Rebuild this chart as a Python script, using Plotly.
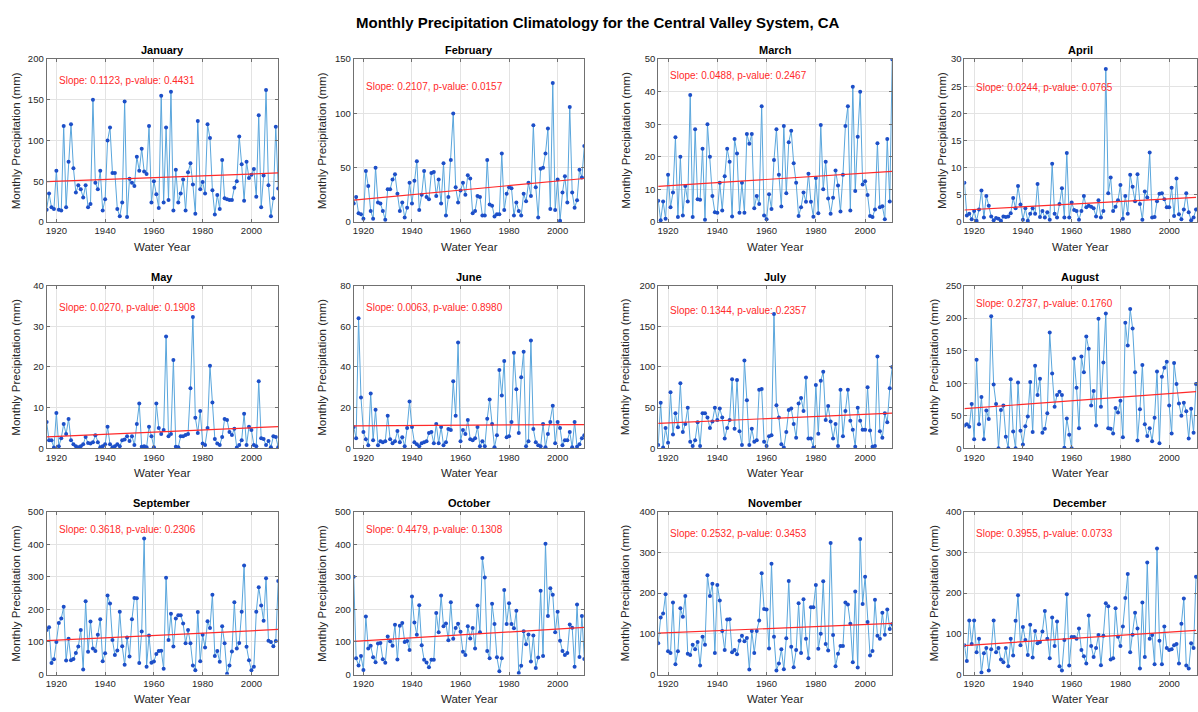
import plotly.graph_objects as go

years = list(range(1916, 2012))
months = ["January", "February", "March", "April", "May", "June",
          "July", "August", "September", "October", "November", "December"]

jan = [15, 35, 18, 16, 63, 15, 14, 118, 18, 74,
       120, 66, 36, 45, 40, 30, 45, 18, 22, 150,
       48, 40, 63, 14, 28, 100, 116, 60, 60, 16,
       7, 24, 148, 6, 53, 48, 44, 80, 63, 90,
       62, 59, 118, 24, 50, 34, 17, 155, 24, 116,
       27, 160, 14, 64, 24, 35, 52, 14, 61, 72,
       46, 10, 124, 40, 49, 35, 120, 103, 39, 9,
       33, 16, 76, 29, 28, 27, 27, 42, 50, 105,
       71, 26, 74, 54, 58, 65, 31, 131, 18, 57,
       162, 45, 7, 29, 117, 41]
feb = [17, 23, 8, 7, 3, 47, 33, 10, 3, 50,
       18, 17, 10, 2, 30, 30, 39, 44, 26, 10,
       18, 4, 13, 36, 17, 38, 56, 11, 25, 47,
       23, 21, 45, 46, 24, 39, 17, 54, 6, 23,
       57, 100, 32, 18, 29, 36, 25, 43, 40, 8,
       10, 24, 23, 6, 6, 57, 16, 15, 5, 7,
       7, 63, 11, 26, 32, 31, 6, 18, 10, 6,
       26, 19, 36, 24, 89, 32, 4, 49, 50, 63,
       86, 12, 128, 11, 39, 1, 27, 42, 18, 106,
       27, 13, 20, 48, 41, 70]
mar = [6.5, 0.5, 6.3, 1, 14.5, 4.5, 9, 26, 1.5, 20,
       2, 11, 6.3, 39, 1.5, 28.5, 7, 6.8, 22.5, 0.7,
       30, 20, 8, 3, 2.8, 12, 3.5, 14, 22.5, 18.5,
       1.7, 25.5, 21, 2.8, 12, 2.8, 27, 24, 27, 4.2,
       8, 5.5, 35.5, 2, 0.8, 8.5, 4, 19, 28.5, 14.5,
       4.7, 29.5, 8.8, 24.5, 28, 18, 12, 1.8, 4.5, 9,
       6.2, 14.8, 6.2, 1.6, 13.5, 2.7, 29.8, 10, 18.5, 7.2,
       2.5, 7.4, 15.8, 11.2, 3.2, 14.5, 29.5, 35.5, 3.5, 41.5,
       9.5, 26.2, 40, 11.5, 12.5, 8.3, 1.8, 1.5, 3.8, 24.2,
       4.5, 4.8, 0.8, 25.5, 6.3, 50]
apr = [7.2, 1.2, 1.5, 0.5, 2.0, 0.2, 2.3, 5.8, 0.8, 4.8,
       3.0, 1.0, 0.3, 0.7, 0.6, 0.2, 1.0, 0.9, 1.0, 1.6,
       4.4, 2.5, 6.6, 3.2, 0.4, 2.5, 0.2, 1.5, 2.5, 1.5,
       7.0, 0.9, 2.0, 0.8, 1.8, 0.4, 10.7, 1.5, 0.8, 3.3,
       6.2, 0.8, 12.7, 0.8, 3.6, 2.2, 2.0, 0.4, 2.0, 4.8,
       2.7, 3.0, 2.8, 2.5, 1.0, 4.0, 0.8, 2.0, 28.2, 5.3,
       8.2, 2.0, 2.8, 4.0, 6.8, 0.6, 4.8, 1.5, 8.7, 6.5,
       3.8, 8.8, 3.3, 0.4, 5.6, 4.5, 12.8, 0.8, 0.9, 3.8,
       5.2, 5.3, 4.2, 2.7, 2.7, 6.3, 1.1, 8.0, 1.4, 0.5,
       2.3, 5.3, 1.8, 0.3, 0.8, 2.3]
may = [6.5, 2, 2, 0.2, 8.7, 0.5, 2.5, 6, 3.5, 7.2,
       2, 1, 0.5, 0.3, 0.5, 1, 2.8, 1.3, 1.2, 1.5,
       3.2, 1.5, 0.3, 0.5, 1, 5.3, 1, 0.3, 0.5, 1,
       0.5, 2, 2.2, 3, 1.8, 3, 0.8, 6, 11, 0.4,
       0.5, 0.3, 5.3, 3, 0.3, 11, 5, 3.5, 4.5, 27.5,
       3, 3.5, 21.7, 0.4, 0.3, 3, 3, 3.3, 3.5, 14.8,
       32.3, 7.5, 3.8, 9.2, 1.2, 0.8, 5, 20.3, 11.3, 2.3,
       1.2, 0.8, 2.8, 7.2, 7, 4, 3.3, 4.8, 0.2, 0.8,
       2, 8.5, 0.8, 5.3, 4.5, 0.8, 0.5, 16.5, 2.5, 2.3,
       0.8, 1.8, 0.3, 3, 2.8, 0.3]
jun = [10.5, 5, 64, 25, 8, 4.5, 1.5, 27, 4, 19,
       1.5, 3.5, 3, 3.5, 16, 4.5, 2.5, 3.5, 8.5, 3,
       5.5, 1, 10, 23, 10.5, 3, 2, 1, 2.5, 3,
       3.5, 7.5, 8, 2.5, 12, 2.5, 10.5, 1.5, 3, 9.5,
       9, 33, 16, 52, 3.5, 9, 7, 14, 4.5, 4,
       5, 10.5, 1, 3.5, 1, 14.5, 24, 12, 0.5, 6.5,
       38.5, 26, 43, 5.5, 6, 13, 47, 29, 7.5, 35,
       47.5, 1, 3.5, 53, 9.5, 3, 1.5, 1, 12, 0.5,
       7, 13, 21, 2.5, 13, 10, 1.5, 4, 4, 8,
       0.5, 13, 0.8, 2, 5, 6.5]
jul = [4, 56, 1, 25, 7, 69, 17, 43, 26, 80,
       20, 30, 50, 8, 3, 10, 32, 3, 43, 43,
       38, 25, 33, 50, 35, 49, 38, 12, 25, 35,
       85, 24, 84, 21, 4, 108, 59, 4, 24, 8,
       10, 72, 73, 8, 3, 15, 16, 165, 53, 38,
       5, 1, 20, 47, 49, 30, 13, 55, 62, 46,
       87, 12, 12, 1, 78, 18, 83, 94, 35, 52,
       33, 12, 30, 3, 72, 15, 46, 72, 34, 23,
       2, 50, 34, 23, 23, 75, 22, 2, 3, 113,
       21, 13, 43, 32, 74, 100]
aug = [35, 37, 33, 68, 14, 136, 37, 79, 14, 58,
       45, 203, 98, 68, 0, 59, 66, 18, 0, 106,
       26, 0, 101, 27, 6, 34, 49, 102, 25, 127,
       82, 107, 24, 30, 54, 178, 115, 64, 82, 87,
       82, 1, 46, 21, 0, 138, 93, 31, 141, 117,
       172, 153, 66, 88, 35, 199, 64, 132, 207, 31,
       30, 23, 62, 55, 73, 17, 193, 158, 214, 184,
       117, 12, 60, 128, 37, 19, 31, 11, 47, 118,
       8, 110, 124, 133, 66, 23, 131, 99, 69, 50,
       70, 57, 15, 61, 24, 99]
sep = [137, 145, 35, 47, 100, 158, 172, 208, 43, 110,
       44, 48, 66, 86, 137, 15, 225, 70, 163, 80,
       72, 122, 170, 41, 65, 243, 218, 106, 60, 74,
       193, 87, 30, 114, 55, 170, 235, 234, 35, 132,
       418, 24, 120, 36, 40, 63, 72, 73, 18, 297,
       106, 187, 86, 172, 182, 182, 157, 96, 137, 96,
       28, 13, 192, 41, 122, 83, 164, 143, 245, 57,
       72, 39, 148, 96, 2, 28, 71, 222, 80, 97,
       193, 335, 85, 44, 13, 24, 193, 268, 212, 165,
       296, 104, 100, 87, 103, 287]
oct_ = [300, 50, 28, 57, 14, 178, 80, 88, 53, 38,
        95, 97, 47, 36, 117, 102, 88, 153, 46, 150,
        158, 100, 103, 75, 240, 160, 122, 213, 90, 45,
        37, 22, 45, 45, 189, 130, 243, 148, 157, 105,
        222, 110, 143, 156, 131, 70, 60, 148, 111, 143,
        80, 212, 130, 358, 298, 72, 50, 217, 155, 53,
        10, 50, 260, 155, 219, 155, 142, 196, 5, 27,
        133, 93, 123, 40, 120, 20, 52, 257, 57, 402,
        180, 265, 245, 130, 193, 104, 72, 60, 66, 154,
        144, 24, 215, 54, 180, 48]
nov = [77, 140, 150, 197, 57, 53, 177, 25, 57, 163,
       142, 193, 51, 48, 73, 62, 80, 22, 93, 73,
       244, 193, 223, 53, 220, 182, 107, 60, 135, 136,
       55, 60, 50, 83, 95, 82, 90, 12, 107, 53,
       107, 133, 249, 161, 160, 64, 272, 93, 10, 27,
       62, 13, 89, 230, 68, 18, 60, 175, 53, 185,
       88, 40, 165, 165, 220, 63, 100, 229, 75, 59,
       323, 97, 20, 51, 70, 70, 177, 172, 125, 30,
       204, 17, 333, 173, 240, 129, 47, 58, 184, 95,
       88, 152, 98, 160, 112, 124]
dec = [72, 33, 133, 75, 133, 55, 88, 5, 52, 65,
       10, 62, 133, 55, 65, 37, 30, 65, 20, 88,
       47, 132, 195, 72, 117, 85, 48, 122, 42, 107,
       77, 80, 106, 156, 88, 40, 140, 70, 130, 20,
       10, 85, 197, 22, 92, 92, 88, 113, 60, 45,
       27, 145, 70, 43, 65, 97, 23, 95, 175, 168,
       37, 40, 163, 93, 70, 118, 188, 247, 55, 98,
       152, 113, 15, 177, 43, 275, 88, 97, 25, 310,
       83, 25, 118, 65, 60, 62, 72, 75, 27, 125,
       187, 22, 15, 77, 65, 240]

series = [jan, feb, mar, apr, may, jun, jul, aug, sep, oct_, nov, dec]
slopes = [0.1123, 0.2107, 0.0488, 0.0244, 0.0270, 0.0063,
          0.1344, 0.2737, 0.3618, 0.4479, 0.2532, 0.3955]
pvalues = [0.4431, 0.0157, 0.2467, 0.0765, 0.1908, 0.8980,
           0.2357, 0.1760, 0.2306, 0.1308, 0.3453, 0.0733]
trend_at_1916 = [49.5, 20.0, 10.9, 2.2, 2.8, 11.1, 30.6, 61.0, 104.0, 102.0, 101.6, 71.0]
y_max = [200, 150, 50, 30, 40, 80, 200, 250, 500, 500, 400, 400]
y_step = [50, 50, 10, 5, 10, 20, 50, 50, 100, 100, 100, 100]
x_ticks = [1920, 1940, 1960, 1980, 2000]

# ---- layout geometry (pixels) ----
W, H = 1198, 712
col_px = [(45.7, 277.7), (353.3, 584.3), (658.3, 892.7), (965.0, 1198.0)]
row_px = [(54.0, 219.3), (284.0, 449.3), (513.7, 679.0)]
ytitle_off = [31, 32, 33, 23, 31, 32, 33, 30, 31, 32, 33, 30]
ann_yfrac = [0.867, 0.829, 0.897, 0.827, 0.867, 0.867,
             0.847, 0.893, 0.893, 0.893, 0.869, 0.867]

FONT = "Liberation Sans, Arial, sans-serif"
LINE_C = "#5aa6dc"
MARK_C = "#1d4fc8"
RED = "#ff2a2a"
AX_C = "#262626"

fig = go.Figure()
annotations = []
layout_axes = {}

for i, m in enumerate(months):
    r, c = divmod(i, 4)
    n = "" if i == 0 else str(i + 1)
    xa, ya = "x" + n, "y" + n
    x0, x1 = col_px[c]
    yt, yb = row_px[r]
    xdom = [x0 / W, min(x1 / W, 1.0)]
    ydom = [1 - yb / H, 1 - yt / H]

    vals = series[i]
    fig.add_trace(go.Scatter(
        x=years, y=vals, xaxis=xa, yaxis=ya, mode="lines+markers",
        line=dict(color=LINE_C, width=1),
        marker=dict(color=MARK_C, size=4),
        showlegend=False, hoverinfo="x+y"))
    trend = [trend_at_1916[i] + slopes[i] * (yr - years[0]) for yr in (years[0], years[-1])]
    fig.add_trace(go.Scatter(
        x=[years[0], years[-1]], y=trend, xaxis=xa, yaxis=ya, mode="lines",
        line=dict(color=RED, width=1.2), showlegend=False, hoverinfo="skip"))

    common = dict(showgrid=True, gridcolor="#e3e3e3", gridwidth=1,
                  zeroline=False, showline=True, linecolor="#707070", linewidth=1,
                  mirror="ticks", ticks="inside", ticklen=3, tickcolor="#707070",
                  tickfont=dict(family=FONT, size=9.5, color=AX_C))
    layout_axes["xaxis" + n] = dict(
        domain=xdom, anchor=ya, range=[years[0], years[-1] + (0.4 if c == 3 else 0)],
        tickvals=x_ticks, **common)
    layout_axes["yaxis" + n] = dict(
        domain=ydom, anchor=xa, range=[0, y_max[i]],
        tick0=0, dtick=y_step[i], **common)

    cx = (x0 + min(x1, 1197.0)) / 2
    # subplot title
    annotations.append(dict(
        text="<b>%s</b>" % m, x=cx / W, y=1 - (yt - 9) / H, xref="paper", yref="paper",
        showarrow=False, xanchor="center", yanchor="middle",
        font=dict(family=FONT, size=11, color="#000000")))
    # x title
    annotations.append(dict(
        text="Water Year", x=cx / W, y=1 - (yb + 25) / H, xref="paper", yref="paper",
        showarrow=False, xanchor="center", yanchor="middle",
        font=dict(family=FONT, size=11.5, color=AX_C)))
    # y title
    annotations.append(dict(
        text="Monthly Precipitation (mm)", x=(x0 - ytitle_off[i]) / W,
        y=1 - (yt + yb) / 2 / H, xref="paper", yref="paper", textangle=-90,
        showarrow=False, xanchor="center", yanchor="middle",
        font=dict(family=FONT, size=11.5, color=AX_C)))
    # slope annotation
    annotations.append(dict(
        text="Slope: %.4f, p-value: %.4f" % (slopes[i], pvalues[i]),
        x=(x0 + 10) / W, y=1 - (yb - ann_yfrac[i] * (yb - yt)) / H,
        xref="paper", yref="paper", showarrow=False,
        xanchor="left", yanchor="middle",
        font=dict(family=FONT, size=10, color=RED)))

annotations.append(dict(
    text="<b>Monthly Precipitation Climatology for the Central Valley System, CA</b>",
    x=598 / W, y=1 - 17 / H, xref="paper", yref="paper", showarrow=False,
    xanchor="center", yanchor="middle",
    font=dict(family=FONT, size=15, color="#000000")))

fig.update_layout(
    width=W, height=H, margin=dict(l=0, r=0, t=0, b=0),
    paper_bgcolor="white", plot_bgcolor="white",
    annotations=annotations, **layout_axes)

fig.write_html("out.html", config={"displayModeBar": False},
               post_script="document.body.style.margin='0';")
